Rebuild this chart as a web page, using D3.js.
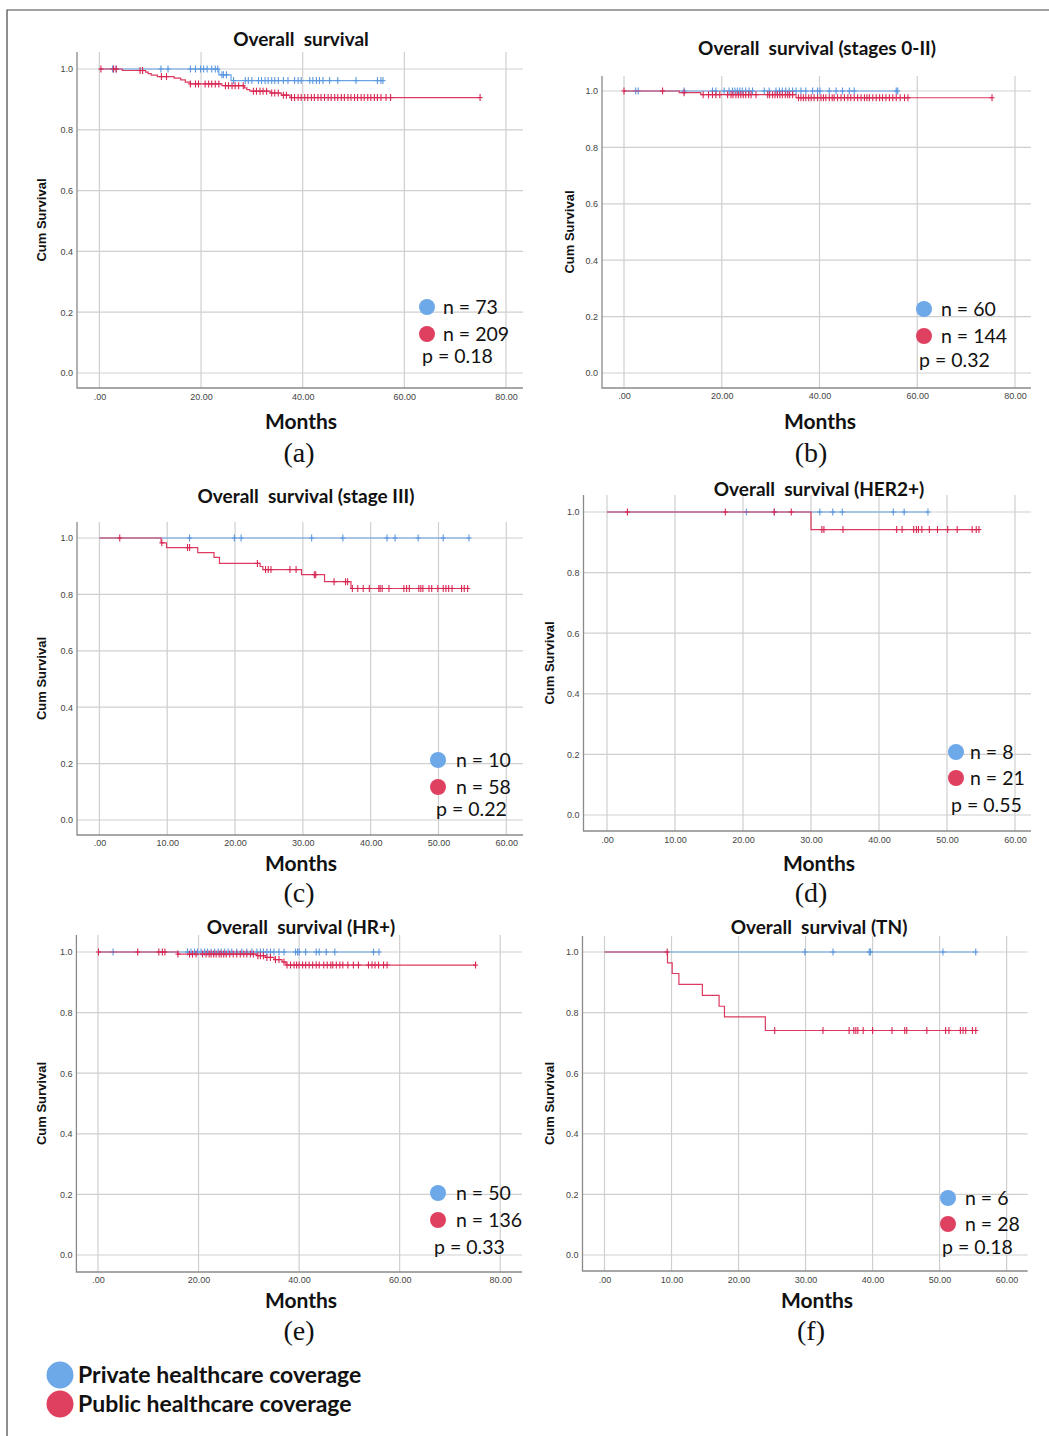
<!DOCTYPE html>
<html>
<head>
<meta charset="utf-8">
<script src="https://cdn.jsdelivr.net/npm/d3@7"></script>
<style>
	html, body { margin: 0; padding: 0; background: #fff; }
	svg { display: block; }
	.tick text { font-family: "Liberation Sans", Arial, sans-serif; font-size: 9px; fill: #444; }
</style>
</head>
<body>
<svg id="chart" width="1049" height="1436"></svg>
<script>
(function(d3) {
	'use strict';

	/** data: [month, survival after step] and censor months */
	var aPrivSteps = [[23.5, 0.981], [25.9, 0.962]];
	var aPrivCens = [2.6, 3.3, 12.1, 13.5, 17.9, 18.9, 19.9, 20.5, 21.2, 22.1, 22.8, 23.3, 24.1, 24.4, 25.0, 26.4, 28.7, 29.3, 30.0,
		31.3, 31.9, 32.6, 33.2, 33.9, 34.5, 35.2, 36.2, 37.1, 38.4, 39.1, 39.7, 41.4, 42.0, 42.7, 43.3, 44.0, 45.3, 46.9, 50.5, 54.7, 55.4, 55.8];
	var aPubSteps = [[4.5, 0.995], [9.1, 0.990], [9.6, 0.985], [10.2, 0.980], [11.4, 0.975], [14.7, 0.970], [16.0, 0.964], [16.9, 0.957],
		[17.9, 0.951], [24.1, 0.945], [28.5, 0.938], [29.0, 0.932], [29.6, 0.927], [33.6, 0.921], [35.8, 0.914], [37.5, 0.906]];
	var aPubCens = [0.3, 2.8, 3.3, 8.0, 8.5, 12.2, 13.2, 17.9, 18.9, 19.5, 20.8, 21.5, 22.1, 22.8, 23.5, 24.8, 25.4, 26.1, 26.7, 27.4, 28.3,
		30.3, 30.9, 31.6, 32.2, 32.9, 33.9, 34.5, 35.2, 36.2, 36.8, 37.8, 38.4, 39.1, 39.7, 40.4, 41.0, 41.7, 42.3, 43.0, 43.6, 44.3, 45.0,
		45.6, 46.3, 46.9, 47.6, 48.2, 48.9, 49.5, 50.2, 50.8, 51.5, 52.1, 52.8, 53.4, 54.1, 54.7, 55.4, 56.4, 57.3, 74.9];

	var bPrivSteps = [];
	var bPrivCens = [2.4, 2.9, 12.3, 18.1, 18.8, 20.5, 21.5, 22.2, 22.7, 23.2, 23.7, 24.2, 24.9, 25.6, 26.3, 28.7, 29.7, 31.1, 31.8, 32.4,
		33.1, 33.8, 34.5, 35.2, 36.2, 37.2, 38.6, 39.6, 40.1, 42.0, 43.4, 44.7, 46.1, 47.1, 55.7, 56.0];
	var bPubSteps = [[11.3, 0.994], [15.7, 0.987], [35.2, 0.976]];
	var bPubCens = [0, 7.9, 12.3, 16.2, 17.3, 18.1, 18.8, 19.6, 21.2, 21.9, 22.3, 22.9, 23.4, 23.9, 24.4, 24.9, 25.5, 26.0, 27.0, 29.4,
		29.8, 30.4, 30.9, 31.4, 31.9, 32.4, 33.0, 33.5, 33.9, 34.5, 35.7, 36.2, 36.7, 37.2, 37.8, 38.3, 38.9, 39.6, 40.3, 40.8, 41.3, 42.0,
		42.6, 43.0, 43.7, 44.4, 45.1, 45.8, 46.4, 47.1, 47.8, 48.5, 49.2, 49.7, 50.2, 50.9, 51.6, 52.3, 52.9, 53.6, 54.3, 55.0, 55.7,
		56.5, 57.4, 58.1, 75.3];

	var cPrivSteps = [];
	var cPrivCens = [13.3, 19.9, 20.9, 31.3, 35.9, 42.4, 43.6, 47.0, 50.7, 54.5];
	var cPubSteps = [[9.1, 0.983], [9.9, 0.966], [14.5, 0.948], [16.9, 0.931], [17.7, 0.910], [23.7, 0.899], [24.1, 0.888],
		[29.8, 0.870], [33.2, 0.845], [37.1, 0.821]];
	var cPubCens = [3.0, 9.2, 13.0, 13.3, 23.3, 24.5, 24.9, 25.3, 28.1, 29.0, 31.7, 31.9, 34.6, 36.3, 36.6, 37.3, 38.1, 38.9, 39.8,
		41.2, 41.4, 41.7, 42.7, 44.9, 45.3, 45.7, 47.1, 47.4, 47.7, 48.6, 49.0, 49.9, 50.7, 51.1, 51.5, 52.0, 53.4, 53.8, 54.3];

	var dPrivSteps = [];
	var dPrivCens = [20.5, 24.6, 31.3, 33.2, 34.6, 42.1, 43.7, 47.2];
	var dPubSteps = [[30.0, 0.942]];
	var dPubCens = [3.0, 17.4, 24.6, 27.1, 31.6, 31.9, 34.7, 42.6, 43.4, 45.1, 45.5, 45.8, 46.3, 47.4, 48.6, 50.1, 51.5, 53.7, 54.3, 54.7];

	var ePrivSteps = [];
	var ePrivCens = [3.0, 17.8, 18.5, 19.2, 19.8, 20.5, 21.2, 21.8, 22.5, 23.2, 23.9, 24.5, 25.2, 25.9, 26.6, 27.6, 28.6, 29.6, 30.6,
		31.6, 32.3, 32.9, 33.6, 34.3, 35.0, 36.0, 37.0, 39.3, 39.7, 40.0, 41.3, 43.4, 44.0, 45.4, 47.1, 54.8, 55.9];
	var ePubSteps = [[15.9, 0.993], [31.6, 0.988], [33.3, 0.982], [35.0, 0.975], [36.6, 0.967], [37.4, 0.957]];
	var ePubCens = [0.1, 7.9, 12.1, 12.8, 13.3, 15.9, 18.2, 18.8, 19.5, 20.8, 21.5, 22.1, 22.5, 23.0, 23.5, 24.1, 24.5, 25.0, 25.5,
		26.2, 26.9, 27.6, 28.3, 29.0, 29.6, 30.3, 30.9, 31.8, 32.3, 32.9, 33.6, 34.3, 35.3, 36.0, 37.0, 37.6, 38.3, 39.0, 39.5, 40.0,
		40.7, 41.3, 42.0, 42.7, 43.4, 44.0, 44.9, 45.6, 46.3, 46.7, 47.4, 48.1, 48.7, 49.7, 50.8, 51.8, 53.8, 54.5, 55.1, 55.8, 56.8,
		57.5, 75.1];

	var fPrivSteps = [];
	var fPrivCens = [29.9, 34.1, 39.5, 39.7, 50.5, 55.4];
	var fPubSteps = [[9.4, 0.964], [10.1, 0.929], [11.1, 0.893], [14.6, 0.857], [17.1, 0.821], [17.9, 0.786], [24.0, 0.741]];
	var fPubCens = [9.35, 25.4, 32.6, 36.5, 37.2, 37.5, 37.8, 38.6, 40.0, 42.9, 44.8, 45.1, 48.1, 50.9, 51.4, 53.1, 53.5, 53.9, 54.9, 55.4];

	var titles = ['Overall  survival', 'Overall  survival (stages 0-II)', 'Overall  survival (stage III)',
		'Overall  survival (HER2+)', 'Overall  survival (HR+)', 'Overall  survival (TN)'];
	var letters = ['(a)', '(b)', '(c)', '(d)', '(e)', '(f)'];
	var nPrivate = [73, 60, 10, 8, 50, 6];
	var nPublic = [209, 144, 58, 21, 136, 28];
	var pValues = ['0.18', '0.32', '0.22', '0.55', '0.33', '0.18'];
	var xMaxes = [80, 80, 60, 60, 80, 60];
	var yTicks = [0, 0.2, 0.4, 0.6, 0.8, 1.0];
	var legendLabels = ['Private healthcare coverage', 'Public healthcare coverage'];

	var series = [
		[aPrivSteps, aPrivCens, aPubSteps, aPubCens],
		[bPrivSteps, bPrivCens, bPubSteps, bPubCens],
		[cPrivSteps, cPrivCens, cPubSteps, cPubCens],
		[dPrivSteps, dPrivCens, dPubSteps, dPubCens],
		[ePrivSteps, ePrivCens, ePubSteps, ePubCens],
		[fPrivSteps, fPrivCens, fPubSteps, fPubCens]
	];

	/** layout (pixels); leg = [dot x, blue y, red y, n text x, p text x, p y] */
	var layout = [
		{ l: 77, r: 523, t: 52, b: 388, x0: 99.4, x1: 506, y0: 373, y1: 69, title: [301, 40], ylab: 42, tick: 402, months: [301, 429], letter: [299, 462], leg: [427, 307, 334, 443, 422, 356] },
		{ l: 602, r: 1031, t: 76, b: 388, x0: 624, x1: 1015, y0: 373, y1: 91, title: [817, 49], ylab: 570, tick: 401, months: [820, 429], letter: [811, 462], leg: [924, 309, 336, 941, 919, 360] },
		{ l: 77, r: 523, t: 522, b: 835, x0: 99.4, x1: 506.3, y0: 820, y1: 538, title: [306, 497], ylab: 42, tick: 848, months: [301, 871], letter: [299, 902], leg: [438, 760, 787, 456, 436, 809] },
		{ l: 583.5, r: 1031, t: 495, b: 831, x0: 607, x1: 1015, y0: 815, y1: 512, title: [819, 490], ylab: 550, tick: 845, months: [819, 871], letter: [811, 902], leg: [956, 752, 778, 970, 951, 805] },
		{ l: 76.4, r: 522, t: 935, b: 1272, x0: 98, x1: 500.2, y0: 1255, y1: 952, title: [301, 928], ylab: 42, tick: 1285, months: [301, 1308], letter: [299, 1340], leg: [438, 1193, 1220, 456, 434, 1247] },
		{ l: 582.5, r: 1027.6, t: 936, b: 1271, x0: 604.5, x1: 1006.6, y0: 1255, y1: 952, title: [819, 928], ylab: 550, tick: 1285, months: [817, 1308], letter: [811, 1340], leg: [948, 1198, 1224, 965, 942, 1247] }
	];

	var colors = {
		privLine: '#6aa3e6', privMark: '#5b97e0', privDot: '#6da8e9',
		pubLine: '#dd3a5f', pubMark: '#d82752', pubDot: '#e0405f',
		grid: '#cfcfcf', axis: '#8a8a8a'
	};

	var svg = d3.select('#chart');

	/** page border */
	svg.append('path').attr('d', 'M7,1436 L7,10 L1049,10')
		.attr('fill', 'none').attr('stroke', '#444').attr('stroke-width', 1.2);

	var survAt = function(steps, t) {
		var s = 1;
		steps.forEach(function(st) {
			if (st[0] <= t) { s = st[1]; }
		});
		return s;
	};

	var stepPoints = function(steps, cens) {
		var end = d3.max(cens.concat(steps.map(function(s) { return s[0]; })));
		var pts = [[0, 1]];
		steps.forEach(function(st) { pts.push([st[0], st[1]]); });
		pts.push([end, survAt(steps, end)]);
		return pts;
	};

	var fmtX = function(v) {
		var s = d3.format('.2f')(v);
		return v === 0 ? s.substr(1) : s;
	};

	var renderPanel = function(i) {
		var L = layout[i];
		var x = d3.scaleLinear().domain([0, xMaxes[i]]).range([L.x0, L.x1]);
		var y = d3.scaleLinear().domain([0, 1]).range([L.y0, L.y1]);
		var g = svg.append('g').attr('class', 'panel');
		var xTicks = d3.range(0, xMaxes[i] + 0.1, xMaxes[i] === 80 ? 20 : 10);

		/** grid */
		g.append('g').selectAll('line.v').data(xTicks).enter().append('line')
			.attr('x1', x).attr('x2', x).attr('y1', L.t).attr('y2', L.b)
			.attr('stroke', colors.grid).attr('stroke-width', 1.2);
		g.append('g').selectAll('line.h').data(yTicks).enter().append('line')
			.attr('x1', L.l).attr('x2', L.r).attr('y1', y).attr('y2', y)
			.attr('stroke', colors.grid).attr('stroke-width', 1.2);

		/** frame */
		g.append('path').attr('d', 'M' + L.l + ',' + L.t + ' L' + L.l + ',' + L.b + ' L' + L.r + ',' + L.b)
			.attr('fill', 'none').attr('stroke', colors.axis).attr('stroke-width', 1.3);

		/** axes labels */
		var xAxis = d3.axisBottom(x).tickValues(xTicks).tickSize(0).tickFormat(fmtX).tickPadding(0);
		g.append('g').attr('transform', 'translate(0,' + (L.tick - 8) + ')').call(xAxis)
			.call(function(a) { a.select('.domain').remove(); });
		var yAxis = d3.axisLeft(y).tickValues(yTicks).tickSize(0).tickFormat(d3.format('.1f')).tickPadding(0);
		g.append('g').attr('transform', 'translate(' + (L.l - 4) + ',0)').call(yAxis)
			.call(function(a) { a.select('.domain').remove(); });

		/** curves */
		var line = d3.line().x(function(d) { return x(d[0]); }).y(function(d) { return y(d[1]); }).curve(d3.curveStepAfter);
		var curves = [
			{ steps: series[i][0], cens: series[i][1], lc: colors.privLine, mc: colors.privMark },
			{ steps: series[i][2], cens: series[i][3], lc: colors.pubLine, mc: colors.pubMark }
		];
		curves.forEach(function(c) {
			g.append('path').datum(stepPoints(c.steps, c.cens)).attr('d', line)
				.attr('fill', 'none').attr('stroke', c.lc).attr('stroke-width', 1.2);
			var m = g.append('g').selectAll('g').data(c.cens).enter().append('g')
				.attr('transform', function(t) { return 'translate(' + x(t) + ',' + y(survAt(c.steps, t)) + ')'; });
			m.append('line').attr('x1', 0).attr('x2', 0).attr('y1', -3.5).attr('y2', 3.5)
				.attr('stroke', c.mc).attr('stroke-width', 1.1);
			m.append('line').attr('x1', -2.5).attr('x2', 2.5).attr('y1', 0).attr('y2', 0)
				.attr('stroke', c.mc).attr('stroke-width', 1.1);
		});

		/** texts */
		g.append('text').attr('x', L.title[0]).attr('y', L.title[1] + 6).attr('text-anchor', 'middle')
			.style('white-space', 'pre')
			.style('font-family', 'Lato, sans-serif').style('font-weight', 'bold').style('font-size', '19px')
			.style('fill', '#111').text(titles[i]);
		g.append('text').attr('transform', 'translate(' + (L.ylab + 4) + ',' + ((L.t + L.b) / 2) + ') rotate(-90)')
			.attr('text-anchor', 'middle')
			.style('font-family', '"Liberation Sans", Arial, sans-serif').style('font-weight', 'bold').style('font-size', '13px')
			.style('fill', '#111').text('Cum Survival');
		g.append('text').attr('x', L.months[0]).attr('y', L.months[1]).attr('text-anchor', 'middle')
			.style('font-family', 'Lato, sans-serif').style('font-weight', 'bold').style('font-size', '21px')
			.style('fill', '#111').text('Months');
		g.append('text').attr('x', L.letter[0]).attr('y', L.letter[1]).attr('text-anchor', 'middle')
			.style('font-family', '"Liberation Serif", "DejaVu Serif", serif').style('font-size', '28px')
			.style('fill', '#111').text(letters[i]);

		/** inner legend */
		var lg = L.leg;
		g.append('circle').attr('cx', lg[0]).attr('cy', lg[1]).attr('r', 8).attr('fill', colors.privDot);
		g.append('circle').attr('cx', lg[0]).attr('cy', lg[2]).attr('r', 8).attr('fill', colors.pubDot);
		var legText = function(tx, ty, s) {
			g.append('text').attr('x', tx).attr('y', ty + 7).style('font-family', 'Lato, sans-serif')
				.style('font-size', '19.5px').style('fill', '#111').text(s);
		};
		legText(lg[3], lg[1], 'n = ' + nPrivate[i]);
		legText(lg[3], lg[2], 'n = ' + nPublic[i]);
		legText(lg[4], lg[5], 'p = ' + pValues[i]);
	};

	d3.range(6).forEach(renderPanel);

	/** bottom legend */
	var bl = svg.append('g').selectAll('g').data(legendLabels).enter().append('g')
		.attr('transform', function(d, k) { return 'translate(60,' + (1375 + k * 29) + ')'; });
	bl.append('circle').attr('r', 13.5).attr('fill', function(d, k) { return k === 0 ? colors.privDot : colors.pubDot; });
	bl.append('text').attr('x', 18).attr('y', 8).style('font-family', 'Lato, sans-serif').style('font-weight', 'bold')
		.style('font-size', '23px').style('fill', '#111').text(function(d) { return d; });
})(d3);
</script>
</body>
</html>
